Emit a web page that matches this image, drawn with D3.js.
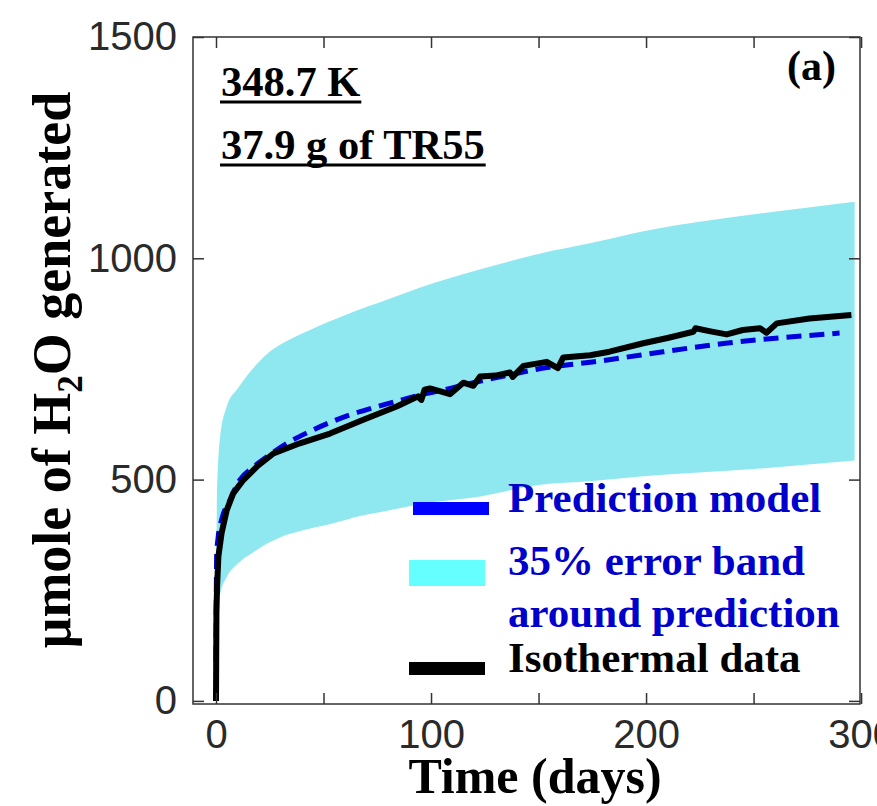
<!DOCTYPE html>
<html lang="en">

<head>
  <meta charset="UTF-8">
  <title>H2O generated vs time</title>
  <script src="https://d3js.org/d3.v7.min.js"></script>
  <style>
    body {
      margin: 0;
      background: white;
    }

    svg {
      display: block;
    }

    .serif {
      font-family: "Liberation Serif", "Times New Roman", serif;
      font-weight: bold;
    }

    .tick text {
      font-family: "Liberation Sans", Arial, sans-serif;
      font-size: 40px;
      fill: #2a2a2a;
    }
  </style>
</head>

<body>
  <div id="chart"></div>

  <script>
    // prediction model (dashed blue)
    const predDays = [0, 0.3, 1, 2.6, 6.5, 11.2, 17.3, 25, 33, 42, 52, 62, 73, 84, 95, 109, 124, 137, 151, 165, 174, 197, 237, 290]
    const predValues = [90, 330, 370, 409, 454, 500, 528, 556, 582, 605, 627, 646, 662, 677, 691, 706, 724, 737, 751, 760, 765, 781, 808, 831]

    // 35% error band around prediction
    const bandDays = [0, 0.5, 2, 5, 10, 17, 24, 30, 40, 55, 67, 76, 95, 123, 150, 175, 200, 253, 297]
    const bandLow = [60, 200, 243, 280, 310, 335, 356, 370, 385, 402, 418, 426, 445, 462, 488, 497, 508, 525, 543]
    const bandHigh = [130, 480, 600, 665, 705, 750, 785, 805, 830, 862, 885, 900, 934, 975, 1010, 1035, 1062, 1101, 1128]

    // isothermal data (black)
    const dataDays = [0, 0.2, 0.5, 1.1, 2.6, 5, 8, 12.7, 18.9, 26.7, 39, 53, 68.5, 84, 94, 95.5, 97, 99.5, 104, 108.8, 115, 119.7, 122.8, 130, 136.7, 138, 143, 153.8, 159, 161.5, 174, 183, 198.7, 210, 222, 223, 230, 237.5, 245, 253, 256, 260.8, 276, 295.5]
    const dataValues = [0, 200, 258, 326, 379, 431, 469, 499, 529, 559, 582, 604, 635, 665, 688, 680, 703, 706, 700, 693, 719, 712, 733, 735, 742, 732, 757, 766, 752, 776, 781, 789, 808, 820, 834, 842, 835, 828, 838, 842, 832, 853, 864, 872]

    const xTicks = [0, 50, 100, 150, 200, 250, 300]
    const xTickLabels = [0, 100, 200, 300]
    const yTicks = [0, 500, 1000, 1500]

    const width = 877
    const height = 806
    const frame = { left: 193, right: 860, top: 37, bottom: 704 }

    const svg = d3.select("#chart")
      .append("svg")
      .attr("width", width)
      .attr("height", height)

    const x = d3.scaleLinear()
      .domain([-10.7, 299.5])
      .range([frame.left, frame.right])

    const y = d3.scaleLinear()
      .domain([-7, 1500])
      .range([frame.bottom, frame.top])

    svg.append("clipPath")
      .attr("id", "plot-clip")
      .append("rect")
      .attr("x", frame.left)
      .attr("y", frame.top)
      .attr("width", frame.right - frame.left)
      .attr("height", frame.bottom - frame.top)

    const plot = svg.append("g")
      .attr("clip-path", "url(#plot-clip)")

    const band = bandDays.map((d, i) => ({ t: d, lo: bandLow[i], hi: bandHigh[i] }))
    const pred = predDays.map((d, i) => ({ t: d, v: predValues[i] }))
    const iso = dataDays.map((d, i) => ({ t: d, v: dataValues[i] }))

    plot.append("path")
      .datum(band)
      .attr("fill", "#8fe8f0")
      .attr("d", d3.area()
        .x(d => x(d.t))
        .y0(d => y(d.lo))
        .y1(d => y(d.hi))
        .curve(d3.curveMonotoneX))

    plot.append("path")
      .datum(pred)
      .attr("fill", "none")
      .attr("stroke", "#0000dd")
      .attr("stroke-width", 5)
      .attr("stroke-dasharray", "15,8")
      .attr("d", d3.line()
        .x(d => x(d.t))
        .y(d => y(d.v))
        .curve(d3.curveMonotoneX))

    plot.append("path")
      .datum(iso)
      .attr("fill", "none")
      .attr("stroke", "black")
      .attr("stroke-width", 6)
      .attr("stroke-linejoin", "round")
      .attr("d", d3.line()
        .x(d => x(d.t))
        .y(d => y(d.v)))

    // frame
    svg.append("rect")
      .attr("x", frame.left)
      .attr("y", frame.top)
      .attr("width", frame.right - frame.left)
      .attr("height", frame.bottom - frame.top)
      .attr("fill", "none")
      .attr("stroke", "#333")
      .attr("stroke-width", 1.5)

    // axes, ticks pointing inward
    const fmtX = d => xTickLabels.includes(d) ? d : ""

    const xBottom = svg.append("g")
      .attr("transform", `translate(0,${frame.bottom})`)
      .call(d3.axisBottom(x).tickValues(xTicks).tickSizeInner(-11).tickSizeOuter(0).tickFormat(fmtX))

    const xTop = svg.append("g")
      .attr("transform", `translate(0,${frame.top})`)
      .call(d3.axisTop(x).tickValues(xTicks).tickSizeInner(-11).tickSizeOuter(0).tickFormat(""))

    const yLeft = svg.append("g")
      .attr("transform", `translate(${frame.left},0)`)
      .call(d3.axisLeft(y).tickValues(yTicks).tickSizeInner(-11).tickSizeOuter(0).tickFormat(d3.format("d")))

    const yRight = svg.append("g")
      .attr("transform", `translate(${frame.right},0)`)
      .call(d3.axisRight(y).tickValues(yTicks).tickSizeInner(-11).tickSizeOuter(0).tickFormat(""))

    for (const g of [xBottom, xTop, yLeft, yRight]) {
      g.select(".domain").remove()
      g.selectAll(".tick line").attr("stroke", "#333").attr("stroke-width", 1.5)
    }
    xBottom.selectAll(".tick text").attr("dy", "0.71em").attr("y", 16)
    yLeft.selectAll(".tick text").attr("x", -16)

    // axis titles
    svg.append("text")
      .attr("class", "serif")
      .attr("x", 535)
      .attr("y", 793)
      .attr("text-anchor", "middle")
      .attr("font-size", 50)
      .text("Time (days)")

    const yTitle = svg.append("text")
      .attr("class", "serif")
      .attr("transform", "translate(70,370) rotate(-90)")
      .attr("text-anchor", "middle")
      .attr("font-size", 54)
    yTitle.append("tspan").text("μmole of H")
    yTitle.append("tspan").attr("font-size", 35).attr("dy", 12).text("2")
    yTitle.append("tspan").attr("dy", -12).text("O generated")

    // annotations
    const notes = [["348.7 K", 96], ["37.9 g of TR55", 159]]
    notes.forEach(([label, base]) => {
      const t = svg.append("text")
        .attr("class", "serif")
        .attr("x", 221)
        .attr("y", base)
        .attr("font-size", 42.5)
        .text(label)
      const w = t.node().getComputedTextLength()
      svg.append("line")
        .attr("x1", 220)
        .attr("x2", 222 + w)
        .attr("y1", base + 6)
        .attr("y2", base + 6)
        .attr("stroke", "black")
        .attr("stroke-width", 3)
    })

    svg.append("text")
      .attr("class", "serif")
      .attr("x", 836)
      .attr("y", 80)
      .attr("text-anchor", "end")
      .attr("font-size", 42)
      .text("(a)")

    // legend
    const legendItems = [
      { color: "#0000ff", y: 502, h: 13, x: 413, lines: ["Prediction model"], base: 512, text: "#0000cc" },
      { color: "#66ffff", y: 560, h: 26, x: 409, lines: ["35% error band", "around prediction"], base: 575, text: "#0000cc" },
      { color: "black", y: 662, h: 13, x: 409, lines: ["Isothermal data"], base: 672, text: "black" }
    ]

    const legend = svg.append("g").attr("id", "legend")

    legend.selectAll("rect")
      .data(legendItems)
      .enter()
      .append("rect")
      .attr("x", d => d.x)
      .attr("y", d => d.y)
      .attr("width", 76)
      .attr("height", d => d.h)
      .attr("fill", d => d.color)

    legendItems.forEach(d => {
      const t = legend.append("text")
        .attr("class", "serif")
        .attr("y", d.base)
        .attr("font-size", 43)
        .attr("fill", d.text)
      d.lines.forEach((line, i) => {
        t.append("tspan")
          .attr("x", 508)
          .attr("dy", i === 0 ? 0 : 52)
          .text(line)
      })
    })
  </script>
</body>

</html>
